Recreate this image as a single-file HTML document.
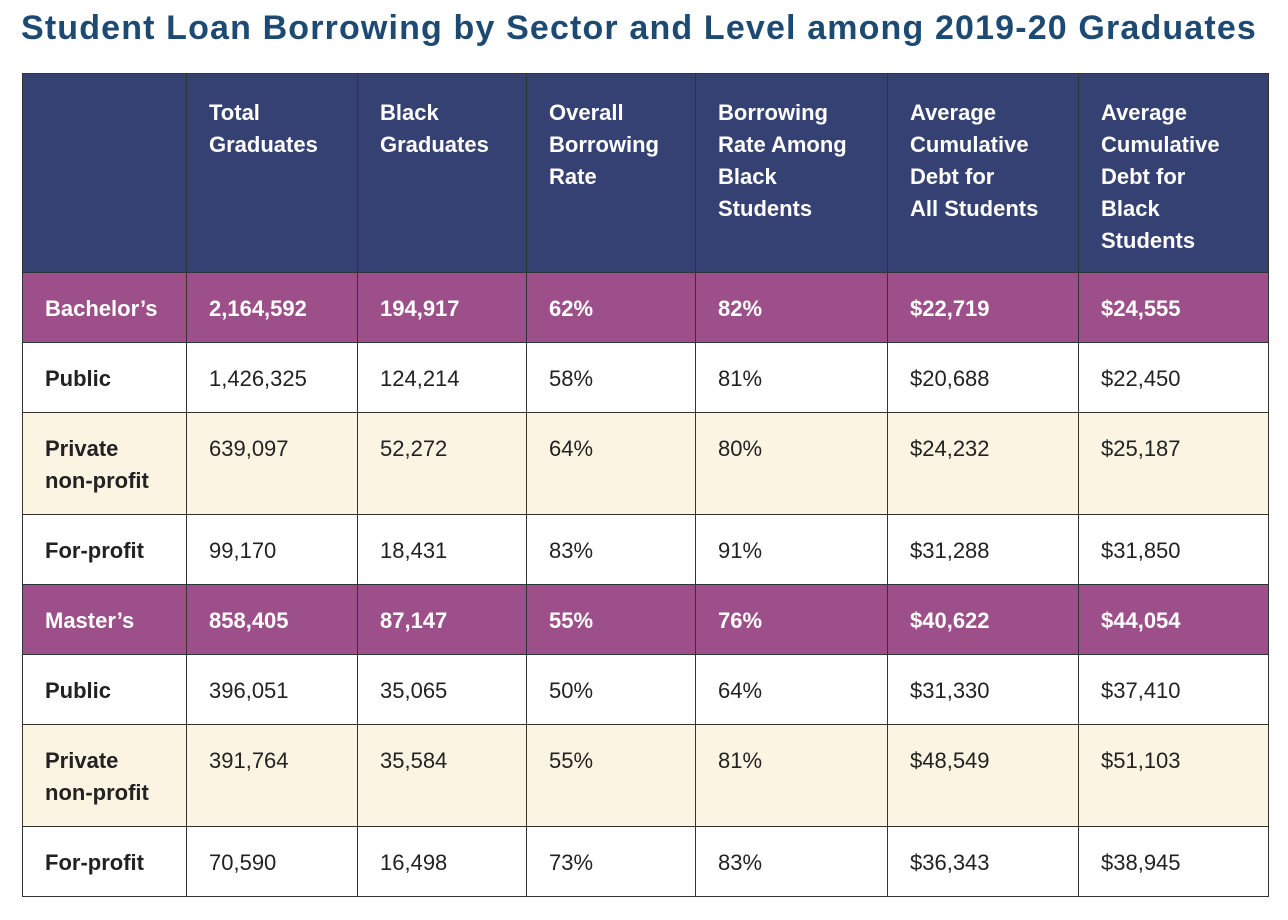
<!DOCTYPE html>
<html><head><meta charset="utf-8"><style>
body{margin:0;width:1288px;height:920px;background:#fff;font-family:"Liberation Sans",sans-serif;position:relative;overflow:hidden}
h1{position:absolute;left:21px;top:9px;margin:0;font-size:34px;font-weight:bold;color:#1d4a72;letter-spacing:1.15px;white-space:nowrap}
table{position:absolute;left:22px;top:73px;border-collapse:collapse;table-layout:fixed}
td,th{border:1.5px solid #333;padding:0 0 0 22px;font-size:22px;color:#222;text-align:left;vertical-align:top}
th{background:#354172;color:#fff;font-weight:bold;line-height:32px;padding-top:23px;vertical-align:top}
td{line-height:32px;padding-top:20px}
td.l{font-weight:bold}
tr.p td{background:#9c4f88;color:#fff;font-weight:bold}
tr.c td{background:#fcf4e3}
</style></head><body>
<h1>Student Loan Borrowing by Sector and Level among 2019-20 Graduates</h1>
<table>
<colgroup><col style="width:164px"><col style="width:171px"><col style="width:169px"><col style="width:169px"><col style="width:192px"><col style="width:191px"><col style="width:190px"></colgroup>
<tr style="height:199px"><th></th><th>Total<br>Graduates</th><th>Black<br>Graduates</th><th>Overall<br>Borrowing<br>Rate</th><th>Borrowing<br>Rate Among<br>Black<br>Students</th><th>Average<br>Cumulative<br>Debt for<br>All Students</th><th>Average<br>Cumulative<br>Debt for<br>Black<br>Students</th></tr>
<tr class="p" style="height:70px"><td>Bachelor’s</td><td>2,164,592</td><td>194,917</td><td>62%</td><td>82%</td><td>$22,719</td><td>$24,555</td></tr>
<tr style="height:70px"><td class="l">Public</td><td>1,426,325</td><td>124,214</td><td>58%</td><td>81%</td><td>$20,688</td><td>$22,450</td></tr>
<tr class="c" style="height:102px"><td class="l">Private<br>non-profit</td><td>639,097</td><td>52,272</td><td>64%</td><td>80%</td><td>$24,232</td><td>$25,187</td></tr>
<tr style="height:70px"><td class="l">For-profit</td><td>99,170</td><td>18,431</td><td>83%</td><td>91%</td><td>$31,288</td><td>$31,850</td></tr>
<tr class="p" style="height:70px"><td>Master’s</td><td>858,405</td><td>87,147</td><td>55%</td><td>76%</td><td>$40,622</td><td>$44,054</td></tr>
<tr style="height:70px"><td class="l">Public</td><td>396,051</td><td>35,065</td><td>50%</td><td>64%</td><td>$31,330</td><td>$37,410</td></tr>
<tr class="c" style="height:102px"><td class="l">Private<br>non-profit</td><td>391,764</td><td>35,584</td><td>55%</td><td>81%</td><td>$48,549</td><td>$51,103</td></tr>
<tr style="height:70px"><td class="l">For-profit</td><td>70,590</td><td>16,498</td><td>73%</td><td>83%</td><td>$36,343</td><td>$38,945</td></tr>
</table>
</body></html>
